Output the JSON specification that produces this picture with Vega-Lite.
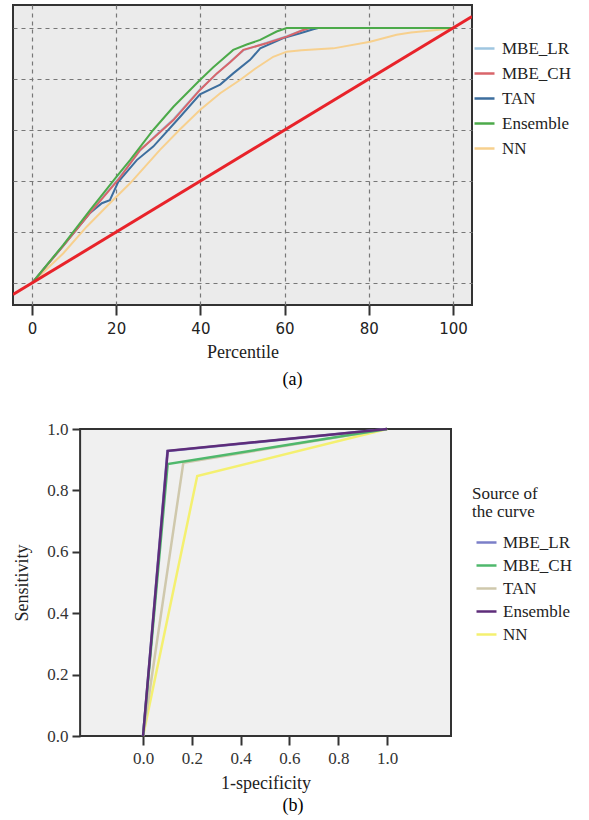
{
  "$schema": "https://vega.github.io/schema/vega-lite/v6.json",
  "padding": {"left": 12, "top": 4, "right": 0, "bottom": 0},
  "background": "white",
  "spacing": 30,
  "bounds": "full",
  "config": {
    "font": "Liberation Serif",
    "title": {"font": "Liberation Serif", "fontSize": 18, "fontWeight": "normal", "color": "#000000"},
    "axis": {"titleFont": "Liberation Serif", "titleFontSize": 18, "titleFontWeight": "normal", "titleColor": "#222222"},
    "legend": {"labelFont": "Liberation Serif", "titleFont": "Liberation Serif"}
  },
  "resolve": {"scale": {"color": "independent", "x": "independent", "y": "independent"}, "legend": {"color": "independent"}},
  "vconcat": [
    {
      "width": 459,
      "height": 300,
      "view": {"fill": "#ebebeb", "stroke": "#333333", "strokeWidth": 2},
      "title": {"text": "(a)", "orient": "bottom", "anchor": "middle", "dx": 50, "offset": 10},
      "layer": [
        {
          "data": {"values": [
            {"model": "MBE_LR", "pct": 0, "gain": 0},
            {"model": "MBE_LR", "pct": 7.4, "gain": 14.6},
            {"model": "MBE_LR", "pct": 13.8, "gain": 27.8},
            {"model": "MBE_LR", "pct": 20.5, "gain": 40.8},
            {"model": "MBE_LR", "pct": 25.7, "gain": 52.0},
            {"model": "MBE_LR", "pct": 30.0, "gain": 58.8},
            {"model": "MBE_LR", "pct": 33.6, "gain": 64.2},
            {"model": "MBE_LR", "pct": 39.9, "gain": 75.9},
            {"model": "MBE_LR", "pct": 43.9, "gain": 82.0},
            {"model": "MBE_LR", "pct": 47.0, "gain": 86.7},
            {"model": "MBE_LR", "pct": 50.2, "gain": 91.2},
            {"model": "MBE_LR", "pct": 55.7, "gain": 94.2},
            {"model": "MBE_LR", "pct": 60.5, "gain": 96.8},
            {"model": "MBE_LR", "pct": 64.4, "gain": 99.2},
            {"model": "MBE_LR", "pct": 66.0, "gain": 100},
            {"model": "MBE_LR", "pct": 100, "gain": 100},
            {"model": "NN", "pct": 0, "gain": 0},
            {"model": "NN", "pct": 7.4, "gain": 11.6},
            {"model": "NN", "pct": 13.0, "gain": 22.1},
            {"model": "NN", "pct": 18.5, "gain": 31.3},
            {"model": "NN", "pct": 23.3, "gain": 39.1},
            {"model": "NN", "pct": 30.4, "gain": 52.2},
            {"model": "NN", "pct": 35.0, "gain": 60.0},
            {"model": "NN", "pct": 39.9, "gain": 67.8},
            {"model": "NN", "pct": 44.7, "gain": 74.4},
            {"model": "NN", "pct": 49.4, "gain": 79.6},
            {"model": "NN", "pct": 53.0, "gain": 84.0},
            {"model": "NN", "pct": 57.3, "gain": 88.7},
            {"model": "NN", "pct": 60.5, "gain": 90.7},
            {"model": "NN", "pct": 64.0, "gain": 91.3},
            {"model": "NN", "pct": 71.6, "gain": 92.0},
            {"model": "NN", "pct": 80.3, "gain": 94.6},
            {"model": "NN", "pct": 86.6, "gain": 97.3},
            {"model": "NN", "pct": 90.0, "gain": 98.2},
            {"model": "NN", "pct": 98.5, "gain": 99.6},
            {"model": "NN", "pct": 100, "gain": 100},
            {"model": "TAN", "pct": 0, "gain": 0},
            {"model": "TAN", "pct": 7.4, "gain": 14.6},
            {"model": "TAN", "pct": 13.8, "gain": 27.5},
            {"model": "TAN", "pct": 16.6, "gain": 31.3},
            {"model": "TAN", "pct": 18.5, "gain": 32.5},
            {"model": "TAN", "pct": 20.5, "gain": 39.7},
            {"model": "TAN", "pct": 24.9, "gain": 48.2},
            {"model": "TAN", "pct": 28.8, "gain": 53.5},
            {"model": "TAN", "pct": 35.2, "gain": 65.2},
            {"model": "TAN", "pct": 39.9, "gain": 74.0},
            {"model": "TAN", "pct": 44.7, "gain": 77.8},
            {"model": "TAN", "pct": 47.8, "gain": 82.2},
            {"model": "TAN", "pct": 51.8, "gain": 87.5},
            {"model": "TAN", "pct": 54.2, "gain": 92.0},
            {"model": "TAN", "pct": 59.7, "gain": 96.0},
            {"model": "TAN", "pct": 63.7, "gain": 97.9},
            {"model": "TAN", "pct": 66.8, "gain": 99.5},
            {"model": "TAN", "pct": 68.0, "gain": 100},
            {"model": "TAN", "pct": 100, "gain": 100},
            {"model": "MBE_CH", "pct": 0, "gain": 0},
            {"model": "MBE_CH", "pct": 7.4, "gain": 14.5},
            {"model": "MBE_CH", "pct": 13.8, "gain": 27.5},
            {"model": "MBE_CH", "pct": 20.5, "gain": 40.5},
            {"model": "MBE_CH", "pct": 25.7, "gain": 52.2},
            {"model": "MBE_CH", "pct": 30.0, "gain": 58.5},
            {"model": "MBE_CH", "pct": 33.6, "gain": 63.9},
            {"model": "MBE_CH", "pct": 39.9, "gain": 75.7},
            {"model": "MBE_CH", "pct": 43.9, "gain": 82.2},
            {"model": "MBE_CH", "pct": 47.0, "gain": 86.5},
            {"model": "MBE_CH", "pct": 50.2, "gain": 91.4},
            {"model": "MBE_CH", "pct": 55.7, "gain": 94.0},
            {"model": "MBE_CH", "pct": 60.5, "gain": 96.6},
            {"model": "MBE_CH", "pct": 64.4, "gain": 99.2},
            {"model": "MBE_CH", "pct": 66.0, "gain": 100},
            {"model": "MBE_CH", "pct": 100, "gain": 100},
            {"model": "Ensemble", "pct": 0, "gain": 0},
            {"model": "Ensemble", "pct": 7.4, "gain": 14.9},
            {"model": "Ensemble", "pct": 13.8, "gain": 28.6},
            {"model": "Ensemble", "pct": 20.1, "gain": 41.7},
            {"model": "Ensemble", "pct": 23.3, "gain": 48.2},
            {"model": "Ensemble", "pct": 28.8, "gain": 60.0},
            {"model": "Ensemble", "pct": 33.6, "gain": 69.1},
            {"model": "Ensemble", "pct": 39.9, "gain": 79.6},
            {"model": "Ensemble", "pct": 43.0, "gain": 84.5},
            {"model": "Ensemble", "pct": 47.8, "gain": 91.4},
            {"model": "Ensemble", "pct": 51.0, "gain": 93.5},
            {"model": "Ensemble", "pct": 54.2, "gain": 95.3},
            {"model": "Ensemble", "pct": 58.1, "gain": 98.6},
            {"model": "Ensemble", "pct": 60.5, "gain": 100},
            {"model": "Ensemble", "pct": 100, "gain": 100}
          ]},
          "mark": {"type": "line", "strokeWidth": 2, "clip": true},
          "encoding": {
            "x": {
              "field": "pct", "type": "quantitative",
              "scale": {"domain": [-4.5, 104.5], "nice": false, "zero": false},
              "axis": {"values": [0, 20, 40, 60, 80, 100], "title": "Percentile", "domain": false,
                "tickSize": 10, "tickWidth": 2, "tickColor": "#333333",
                "labelFont": "DejaVu Sans", "labelFontSize": 15, "labelColor": "#222222", "labelPadding": 6,
                "grid": true, "gridDash": [4, 4], "gridColor": "#777777", "gridWidth": 1.2, "titlePadding": 7}
            },
            "y": {
              "field": "gain", "type": "quantitative",
              "scale": {"domain": [-8.6, 109], "nice": false, "zero": false},
              "axis": {"values": [0, 20, 40, 60, 80, 100], "title": null, "labels": false, "ticks": false, "domain": false,
                "grid": true, "gridDash": [4, 4], "gridColor": "#777777", "gridWidth": 1.2}
            },
            "color": {
              "field": "model", "type": "nominal",
              "scale": {"domain": ["MBE_LR", "MBE_CH", "TAN", "Ensemble", "NN"], "range": ["#9fc6e0", "#d9656a", "#3d6e9e", "#4caa4a", "#f7d08e"]},
              "legend": {"title": null, "orient": "none", "legendX": 460, "legendY": 32, "padding": 0,
                "symbolType": "stroke", "symbolSize": 400, "symbolStrokeWidth": 2.5,
                "labelFont": "Liberation Serif", "labelFontSize": 17, "labelColor": "#222222", "labelOffset": 6, "rowPadding": 5}
            }
          }
        },
        {
          "data": {"values": [{"pct": -4.5, "gain": -4.5}, {"pct": 104.5, "gain": 104.5}]},
          "mark": {"type": "line", "color": "#e8232a", "strokeWidth": 3, "clip": true},
          "encoding": {
            "x": {"field": "pct", "type": "quantitative"},
            "y": {"field": "gain", "type": "quantitative"}
          }
        }
      ]
    },
    {
      "width": 438,
      "height": 307,
      "view": {"stroke": null},
      "title": {"text": "(b)", "orient": "bottom", "anchor": "middle", "dx": 61, "offset": 5},
      "layer": [
        {
          "data": {"values": [{}]},
          "mark": {"type": "rect", "fill": "#f0f0f0", "stroke": "#333333", "strokeWidth": 2},
          "encoding": {
            "x": {"datum": -0.258, "type": "quantitative"},
            "x2": {"datum": 1.262},
            "y": {"datum": 0, "type": "quantitative"},
            "y2": {"datum": 1}
          }
        },
        {
          "data": {"values": [
            {"model": "MBE_LR", "fpr": 0, "tpr": 0},
            {"model": "MBE_LR", "fpr": 0.1, "tpr": 0.928},
            {"model": "MBE_LR", "fpr": 1, "tpr": 1},
            {"model": "NN", "fpr": 0, "tpr": 0},
            {"model": "NN", "fpr": 0.222, "tpr": 0.847},
            {"model": "NN", "fpr": 1, "tpr": 1},
            {"model": "TAN", "fpr": 0, "tpr": 0},
            {"model": "TAN", "fpr": 0.165, "tpr": 0.89},
            {"model": "TAN", "fpr": 1, "tpr": 1},
            {"model": "MBE_CH", "fpr": 0, "tpr": 0},
            {"model": "MBE_CH", "fpr": 0.101, "tpr": 0.886},
            {"model": "MBE_CH", "fpr": 1, "tpr": 1},
            {"model": "Ensemble", "fpr": 0, "tpr": 0},
            {"model": "Ensemble", "fpr": 0.101, "tpr": 0.929},
            {"model": "Ensemble", "fpr": 1, "tpr": 1}
          ]},
          "mark": {"type": "line", "strokeWidth": 2.5},
          "encoding": {
            "x": {
              "field": "fpr", "type": "quantitative",
              "scale": {"domain": [-0.533, 1.262], "nice": false, "zero": false},
              "axis": {"values": [0, 0.2, 0.4, 0.6, 0.8, 1.0], "format": ".1f", "title": "1-specificity", "titleX": 252.5, "domain": false, "grid": false,
                "tickSize": 9, "tickWidth": 2, "tickColor": "#333333",
                "labelFont": "Liberation Serif", "labelFontSize": 17, "labelColor": "#333333", "labelPadding": 5, "titlePadding": 8}
            },
            "y": {
              "field": "tpr", "type": "quantitative",
              "scale": {"domain": [0, 1], "nice": false},
              "axis": {"values": [0, 0.2, 0.4, 0.6, 0.8, 1.0], "format": ".1f", "title": "Sensitivity", "offset": -67, "domain": false, "grid": false,
                "tickSize": 8, "tickWidth": 2, "tickColor": "#333333",
                "labelFont": "Liberation Serif", "labelFontSize": 17, "labelColor": "#333333", "labelPadding": 4, "titlePadding": 15}
            },
            "color": {
              "field": "model", "type": "nominal",
              "scale": {"domain": ["MBE_LR", "MBE_CH", "TAN", "Ensemble", "NN"], "range": ["#7b7fc8", "#4fb86c", "#cfc8ac", "#5e2d7a", "#f4f070"]},
              "legend": {"title": ["Source of", "the curve"], "orient": "none", "legendX": 459, "legendY": 57, "padding": 0,
                "titleFont": "Liberation Serif", "titleFontSize": 17, "titleFontWeight": "normal", "titleColor": "#222222", "titleLineHeight": 18, "titlePadding": 10,
                "symbolType": "stroke", "symbolSize": 400, "symbolStrokeWidth": 2.5, "symbolOffset": 3,
                "labelFont": "Liberation Serif", "labelFontSize": 17, "labelColor": "#222222", "labelOffset": 5, "rowPadding": 3}
            }
          }
        }
      ]
    }
  ]
}
